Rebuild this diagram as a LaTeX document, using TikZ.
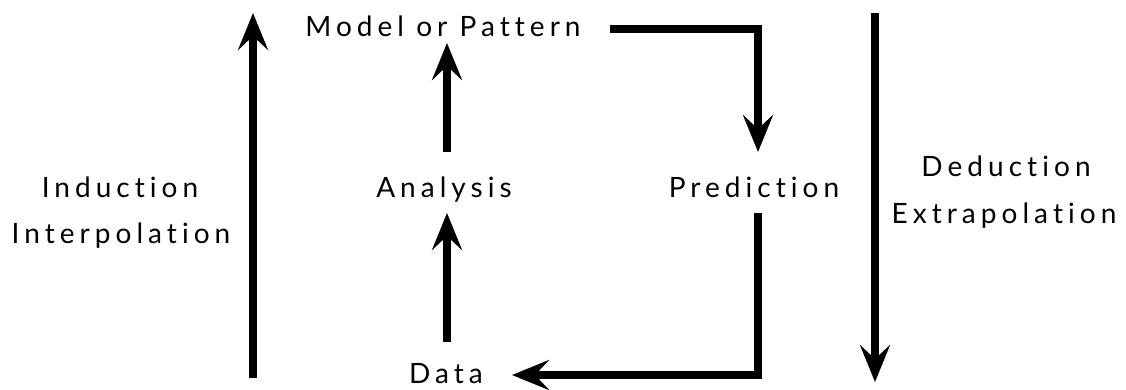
\documentclass[tikz,border=0pt]{standalone}
\usepackage{fontspec}
\setmainfont{Lato}[LetterSpace=18,RawFeature={-liga;-dlig}]
\usetikzlibrary{arrows.meta}
\begin{document}
\begin{tikzpicture}[x=1pt,y=-1pt,
  arr/.style={line width=8pt,-{Stealth[length=37pt,width=30pt,inset=14pt]}},
  lbl/.style={inner sep=0pt,anchor=base,font=\fontsize{28}{32}\selectfont}]
\useasboundingbox (0,0) rectangle (1126,390);
% labels
\node[lbl] (model) at (443,37) {Model or Pattern};
\node[lbl] (analysis) at (444,197) {Analysis};
\node[lbl] (prediction) at (754,197) {Prediction};
\node[lbl] (data) at (446,383) {Data};
\node[lbl] (ind) at (120,197) {Induction};
\node[lbl] (interp) at (121,243) {Interpolation};
\node[lbl] (ded) at (1006,177) {Deduction};
\node[lbl] (extra) at (1004,223) {Extrapolation};
% side arrows
\coordinate (lbot) at (253,378);
\coordinate (ltop) at (253,13);
\coordinate (rtop) at (875,13);
\coordinate (rbot) at (875,382);
\draw[arr] (lbot) -- (ltop);
\draw[arr] (rtop) -- (rbot);
% inner arrows
\draw[arr] (analysis.base -| 447,0) ++(0,-45) -- ([yshift=-6pt]model.base -| 447,0);
\draw[arr] (data.base -| 447,0) ++(0,-41) -- ([yshift=-16pt]analysis.base -| 447,0);
\draw[arr] (model.base -| 610,0) ++(0,-8) -| ([yshift=45pt]prediction.base -| 758,0);
\draw[arr] ([yshift=-16pt]prediction.base -| 758,0) |- ([yshift=8pt]data.base -| 512,0);
\end{tikzpicture}
\end{document}
